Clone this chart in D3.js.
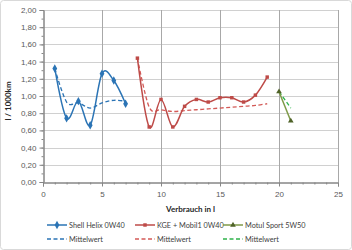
<!DOCTYPE html>
<html>
<head>
<meta charset="utf-8">
<script src="https://cdn.jsdelivr.net/npm/d3@7"></script>
<style>
  body { margin: 0; background: #fff; }
  svg { display: block; font-family: Lato, "Liberation Sans", sans-serif; }
</style>
</head>
<body>
<div id="chart"></div>
<script>
// values
const shellX = [1, 2, 3, 4, 5, 6, 7];
const shellVal = [1.32, 0.74, 0.94, 0.66, 1.26, 1.18, 0.91];
const shellMean = [1.32, 0.93, 0.92, 0.86, 0.92, 0.95, 0.94];

const kgeX = [8, 9, 10, 11, 12, 13, 14, 15, 16, 17, 18, 19];
const kgeVal = [1.44, 0.64, 0.96, 0.64, 0.88, 0.96, 0.93, 0.98, 0.98, 0.93, 1.01, 1.22];
const kgeMean = [1.44, 0.87, 0.84, 0.82, 0.83, 0.84, 0.85, 0.86, 0.87, 0.88, 0.89, 0.91];

const motulX = [20, 21];
const motulVal = [1.05, 0.71];
const motulMean = [1.05, 0.86];

const xTicks = [0, 5, 10, 15, 20, 25];
const yTicks = [0, 0.2, 0.4, 0.6, 0.8, 1.0, 1.2, 1.4, 1.6, 1.8, 2.0];

const series = [
    { name: "Shell Helix 0W40", xs: shellX, vals: shellVal, mean: shellMean, color: "#2b74b5", meanColor: "#2b74b5", marker: "diamond" },
    { name: "KGE + Mobil1 0W40", xs: kgeX, vals: kgeVal, mean: kgeMean, color: "#be4b48", meanColor: "#d35a57", marker: "square" },
    { name: "Motul Sport 5W50", xs: motulX, vals: motulVal, mean: motulMean, color: "#7f9a48", meanColor: "#2eb34a", marker: "triangle" }
];

const W = 352, H = 250;
const svg = d3.select("#chart").append("svg").attr("width", W).attr("height", H);

svg.append("rect")
    .attr("x", 0.5).attr("y", 0.5).attr("width", W - 1).attr("height", H - 1)
    .attr("rx", 3).attr("fill", "#fff").attr("stroke", "#d9d9d9");

const x = d3.scaleLinear().domain([0, 25]).range([43, 338]);
const y = d3.scaleLinear().domain([0, 2]).range([182, 10]);

// gridlines
svg.append("g").selectAll("line").data(yTicks.slice(1)).join("line")
    .attr("x1", x(0)).attr("x2", x(25))
    .attr("y1", d => Math.round(y(d)) + 0.5).attr("y2", d => Math.round(y(d)) + 0.5)
    .attr("stroke", "#d0d0d0");
svg.append("g").selectAll("line").data(xTicks.slice(1)).join("line")
    .attr("y1", y(0)).attr("y2", y(2))
    .attr("x1", d => Math.round(x(d)) + 0.5).attr("x2", d => Math.round(x(d)) + 0.5)
    .attr("stroke", "#a8a8a8");

// axes
const xAxis = svg.append("g").attr("transform", `translate(0,${Math.round(y(0)) + 0.5})`)
    .call(d3.axisBottom(x).tickValues(xTicks).tickSize(4).tickFormat(d3.format("d")));
svg.append("g").attr("transform", `translate(0,${Math.round(y(0)) + 0.5})`)
    .call(d3.axisBottom(x).ticks(25).tickSize(2).tickFormat(""));
const yAxis = svg.append("g").attr("transform", `translate(${Math.round(x(0)) + 0.5},0)`)
    .call(d3.axisLeft(y).tickValues(yTicks).tickSize(4).tickFormat(d => d.toFixed(2).replace(".", ",")));
svg.append("g").attr("transform", `translate(${Math.round(x(0)) + 0.5},0)`)
    .call(d3.axisLeft(y).ticks(20).tickSize(2).tickFormat(""));

svg.selectAll(".domain").attr("stroke", "#868686");
svg.selectAll(".tick line").attr("stroke", "#868686");
svg.selectAll(".tick text").attr("fill", "#595959").style("font-size", "8px");
xAxis.selectAll(".tick text").attr("dy", "0.9em");

// titles
svg.append("text").attr("x", (x(0) + x(25)) / 2).attr("y", 212)
    .attr("text-anchor", "middle").style("font-size", "8px").style("font-weight", "bold")
    .attr("fill", "#262626").text("Verbrauch in l");
svg.append("text").attr("transform", `translate(11,${(y(0) + y(2)) / 2 + 5}) rotate(-90)`)
    .attr("text-anchor", "middle").style("font-size", "8px").style("font-weight", "bold")
    .attr("fill", "#262626").text("l / 1000km");

const curve = d3.curveCatmullRom.alpha(0);
const symbols = { diamond: d3.symbolDiamond, square: d3.symbolSquare, triangle: d3.symbolTriangle };
const sizes = { diamond: 20, square: 12, triangle: 14 };

series.forEach(s => {
    const pts = s.xs.map((d, i) => [d, s.vals[i]]);
    const mpts = s.xs.map((d, i) => [d, s.mean[i]]);
    const line = d3.line().x(d => x(d[0])).y(d => y(d[1])).curve(curve);

    svg.append("path").datum(mpts).attr("d", line)
        .attr("fill", "none").attr("stroke", s.meanColor).attr("stroke-width", 1.3)
        .attr("stroke-dasharray", "4,2.5");
    svg.append("path").datum(pts).attr("d", line)
        .attr("fill", "none").attr("stroke", s.color).attr("stroke-width", 1.5);
    svg.append("g").selectAll("path").data(pts).join("path")
        .attr("transform", d => `translate(${x(d[0])},${y(d[1])})`)
        .attr("d", d3.symbol().type(symbols[s.marker]).size(sizes[s.marker]))
        .attr("fill", s.marker === "triangle" ? "#4f6228" : s.color);
});

// legend
const legX = [47, 135, 223];
series.forEach((s, i) => {
    const g = svg.append("g").attr("transform", `translate(${legX[i]},0)`);
    g.append("line").attr("x1", 0).attr("x2", 20).attr("y1", 225).attr("y2", 225)
        .attr("stroke", s.color).attr("stroke-width", 1.5);
    g.append("path").attr("transform", "translate(10,225)")
        .attr("d", d3.symbol().type(symbols[s.marker]).size(sizes[s.marker]))
        .attr("fill", s.marker === "triangle" ? "#4f6228" : s.color);
    g.append("text").attr("x", 22).attr("y", 227.8).style("font-size", "7.3px")
        .attr("fill", "#404040").text(s.name);
    g.append("line").attr("x1", 0).attr("x2", 20).attr("y1", 239).attr("y2", 239)
        .attr("stroke", s.meanColor).attr("stroke-width", 1.3).attr("stroke-dasharray", "4,2.5");
    g.append("text").attr("x", 22).attr("y", 241.8).style("font-size", "7.3px")
        .attr("fill", "#404040").text("Mittelwert");
});
</script>
</body>
</html>
